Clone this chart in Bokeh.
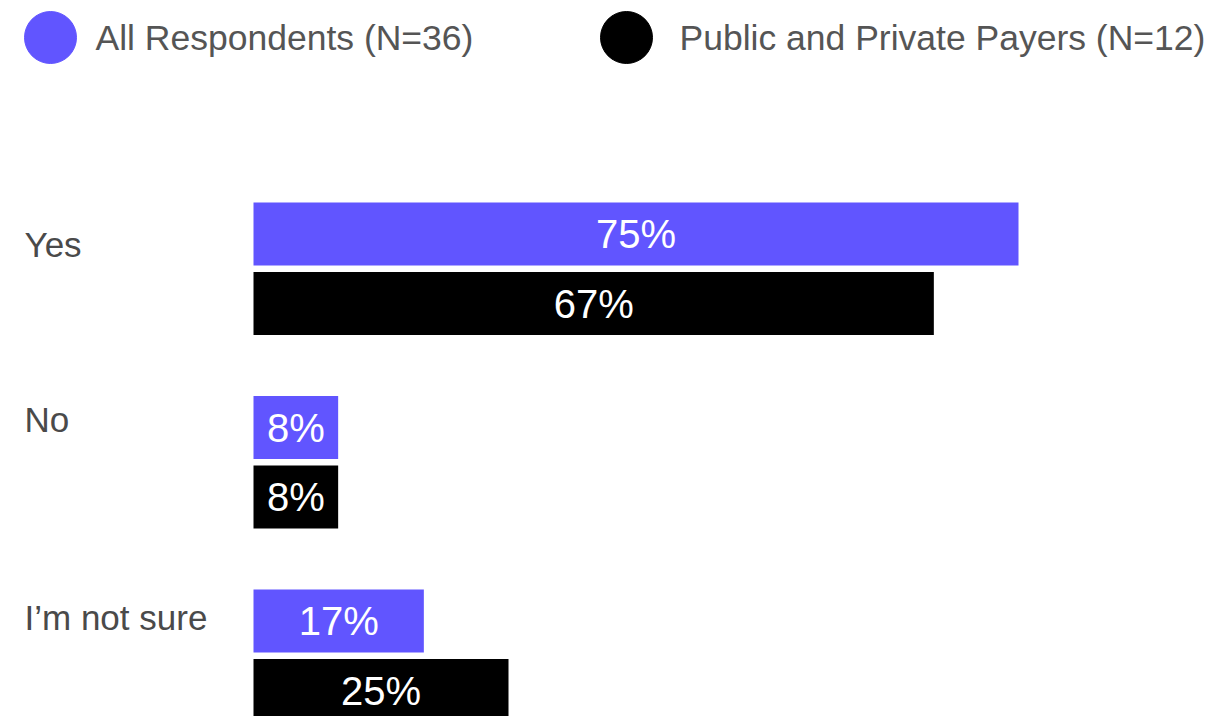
from bokeh.plotting import figure
from bokeh.models import Range1d, ColumnDataSource
from bokeh.core.properties import value
from bokeh.embed import file_html
from bokeh.resources import INLINE

# ---- data ----
categories = ["Yes", "No", "I\u2019m not sure"]
all_respondents = [75.0, 8.3, 16.7]
payers = [66.7, 8.3, 25.0]
series_names = ["All Respondents (N=36)", "Public and Private Payers (N=12)"]
series_colors = ["#6155FF", "#000000"]

# ---- layout (pixels) ----
W, H = 1210, 716
X0 = 253          # pixel where 0% starts
S = 10.2          # pixels per percent
GROUP0 = 233.5    # centre of first purple bar
GROUP_STEP = 193.5
PAIR_OFFSET = 69.5
BAR_H = 63
CAT_NUDGE = [10, -8.5, -4]   # vertical nudge of category labels
FONT = "Liberation Sans"

p = figure(width=W, height=H, output_backend="svg", toolbar_location=None,
           x_axis_location=None, y_axis_location=None, min_border=0,
           x_range=Range1d(-X0 / S, (W - X0) / S), y_range=Range1d(H, 0))
p.grid.visible = False
p.outline_line_color = None
p.background_fill_color = "white"
p.border_fill_color = "white"

for k, (vals, col) in enumerate(zip([all_respondents, payers], series_colors)):
    ys = [GROUP0 + i * GROUP_STEP + k * PAIR_OFFSET for i in range(len(categories))]
    src = ColumnDataSource(dict(
        y=ys, v=vals, mid=[v / 2 for v in vals],
        lab=[f"{round(v):.0f}%" for v in vals]))
    p.hbar(y="y", left=0, right="v", height=BAR_H, source=src,
           fill_color=col, line_color=None)
    p.text(x="mid", y="y", text="lab", source=src, text_font=value(FONT),
           text_font_size="40px", text_color="white", text_align="center",
           text_baseline="middle")

# category labels
cat_src = ColumnDataSource(dict(
    x=[(24 - X0) / S] * len(categories),
    y=[GROUP0 + i * GROUP_STEP + CAT_NUDGE[i] for i in range(len(categories))],
    t=categories))
p.text(x="x", y="y", text="t", source=cat_src, text_font=value(FONT),
       text_font_size="35px", text_color="#4a4a4a", text_align="left",
       text_baseline="middle")

# legend
leg_circle_px = [50, 626]
leg_text_px = [95, 679]
leg_src = ColumnDataSource(dict(
    cx=[(x - X0) / S for x in leg_circle_px],
    tx=[(x - X0) / S for x in leg_text_px],
    y=[37, 37], c=series_colors, t=series_names))
p.scatter(x="cx", y="y", size=52, marker="circle", color="c", source=leg_src)
p.text(x="tx", y="y", text="t", source=leg_src, text_font=value(FONT),
       text_font_size="35.5px", text_color="#555555", text_align="left",
       text_baseline="middle")

open("out.html", "w").write(file_html(p, INLINE))
